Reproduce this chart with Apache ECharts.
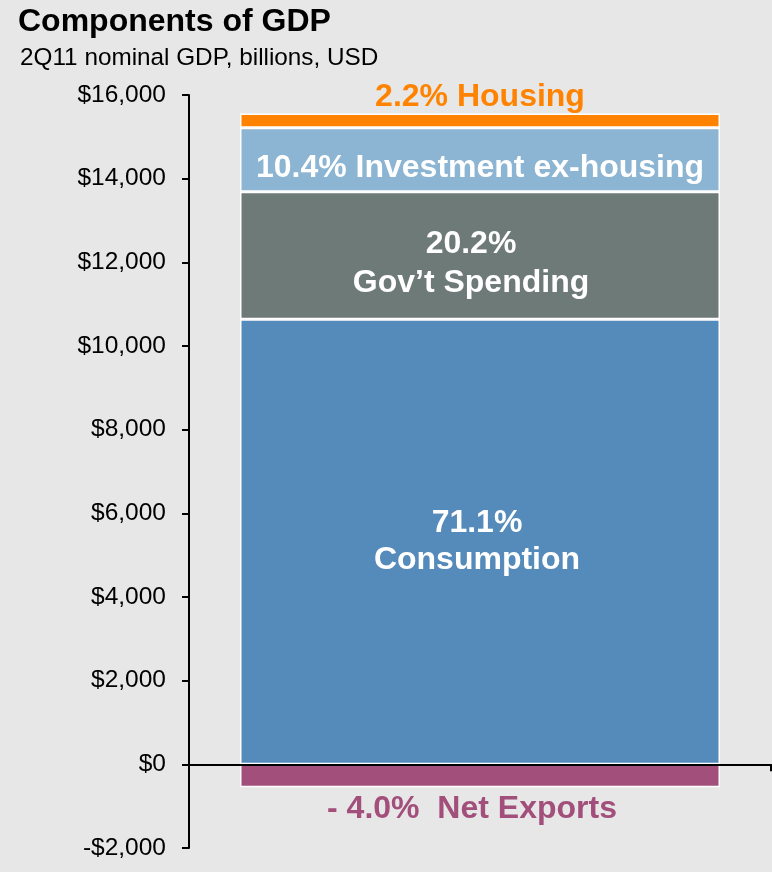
<!DOCTYPE html>
<html>
<head>
<meta charset="utf-8">
<script src="https://cdn.jsdelivr.net/npm/echarts@6/dist/echarts.min.js"></script>
<style>
html,body{margin:0;padding:0;background:#e6e7e6;}
#chart{width:772px;height:872px;}
</style>
</head>
<body>
<div id="chart"></div>
<script>
// ---- data ----
var categories = ['2Q11'];
var seriesNames = ['Consumption', 'Gov\u2019t Spending', 'Investment ex-housing', 'Housing', 'Net Exports'];
var seriesValues = [10640, 3045, 1530, 340, -550];
var seriesShares = ['71.1%', '20.2%', '10.4%', '2.2%', '- 4.0%'];
var yTicks = { min: -2000, max: 16000, interval: 2000 };

// ---- styles ----
var colors = ['#548bba', '#6e7a77', '#8bb5d2', '#ff8300', '#a34f7b'];
var labelLayouts = [
  { position: 'inside', color: '#ffffff', sep: '\n', offset: [-3, 0], lineHeight: 37, distance: 0 },
  { position: 'inside', color: '#ffffff', sep: '\n', offset: [-9, 8], lineHeight: 39, distance: 0 },
  { position: 'inside', color: '#ffffff', sep: ' ', offset: [0, 8], lineHeight: 32, distance: 0 },
  { position: 'top', color: '#ff8300', sep: ' ', offset: [0, 2], lineHeight: 32, distance: 2 },
  { position: 'bottom', color: '#a34f7b', sep: '  ', offset: [-8, 2], lineHeight: 32, distance: 4 }
];

var FONT = '"Liberation Sans", Arial, Helvetica, sans-serif';

var series = seriesNames.map(function (name, i) {
  var lay = labelLayouts[i];
  return {
    name: name,
    type: 'bar',
    stack: 'gdp',
    barWidth: 480,
    data: [seriesValues[i]],
    itemStyle: { color: colors[i], borderColor: '#ffffff', borderWidth: 1.5 },
    label: {
      show: true,
      position: lay.position,
      distance: lay.distance,
      offset: lay.offset,
      color: lay.color,
      fontFamily: FONT,
      fontWeight: 'bold',
      fontSize: 32,
      lineHeight: lay.lineHeight,
      align: 'center',
      formatter: (function (s, n, sep) { return function () { return s + sep + n; }; })(seriesShares[i], name, lay.sep)
    },
    emphasis: { disabled: true },
    animation: false
  };
});

var chart = echarts.init(document.getElementById('chart'), null, { renderer: 'canvas' });
chart.setOption({
  backgroundColor: '#e6e7e6',
  animation: false,
  title: [
    { text: 'Components of GDP', left: 13, top: 1,
      textStyle: { fontFamily: FONT, fontWeight: 'bold', fontSize: 32, color: '#000' } },
    { text: '2Q11 nominal GDP, billions, USD', left: 15, top: 41,
      textStyle: { fontFamily: FONT, fontWeight: 'normal', fontSize: 24.3, color: '#000' } }
  ],
  grid: { left: 189, right: 1, top: 95, bottom: 24, containLabel: false },
  xAxis: {
    type: 'category',
    data: categories,
    z: 5,
    axisLine: { show: true, onZero: true, lineStyle: { color: '#000', width: 2 } },
    axisTick: { show: true, alignWithLabel: false, length: 7, lineStyle: { color: '#000', width: 2 } },
    axisLabel: { show: false },
    splitLine: { show: false }
  },
  yAxis: {
    type: 'value',
    min: yTicks.min,
    max: yTicks.max,
    interval: yTicks.interval,
    z: 5,
    axisLine: { show: true, lineStyle: { color: '#000', width: 2 } },
    axisTick: { show: true, inside: false, length: 7, lineStyle: { color: '#000', width: 2 } },
    splitLine: { show: false },
    axisLabel: {
      margin: 23,
      color: '#000',
      fontFamily: FONT,
      fontSize: 24.5,
      formatter: function (v) {
        var s = '$' + Math.abs(v).toLocaleString('en-US');
        return v < 0 ? '-' + s : s;
      }
    }
  },
  series: series
});
</script>
</body>
</html>
